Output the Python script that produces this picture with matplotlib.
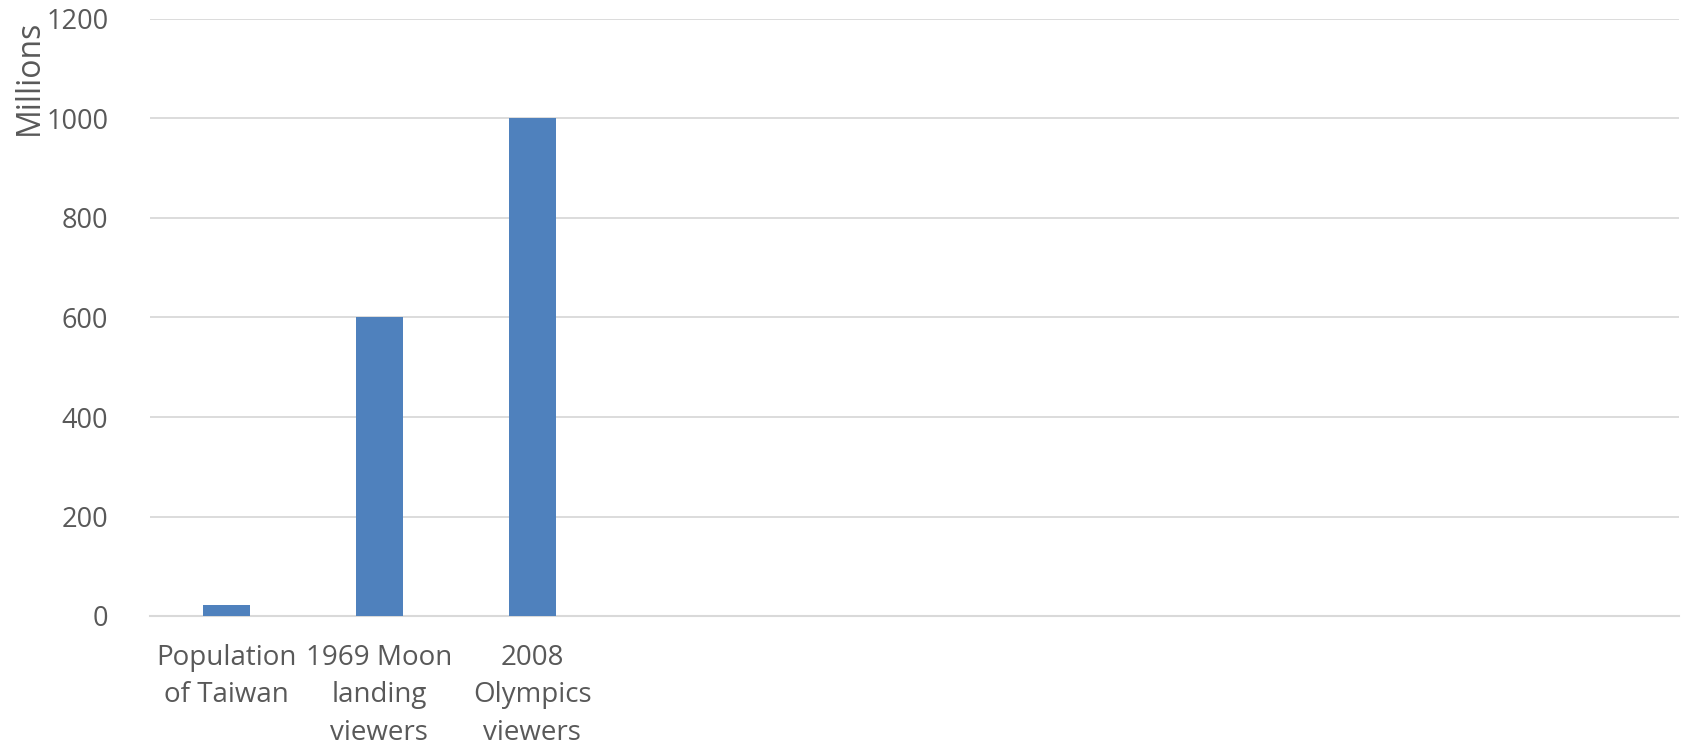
import matplotlib
matplotlib.use("Agg")
import matplotlib.pyplot as plt

# datos
categorias = ["Population\nof Taiwan", "1969 Moon\nlanding\nviewers", "2008\nOlympics\nviewers"]
valores = [23, 600, 1000]
n_espacios = 10  # el eje tiene 10 categorias, solo 3 con datos
ticks_y = [0, 200, 400, 600, 800, 1000, 1200]

plt.rcParams['font.family'] = ['Open Sans', 'DejaVu Sans']

fig = plt.figure(figsize=(16.85, 7.51), dpi=100)
ax = fig.add_axes([150 / 1685, 1 - 616 / 751, (1679 - 150) / 1685, (616 - 19) / 751])

x = list(range(len(valores)))
ax.bar(x, valores, width=0.31, color='#4f81bd', zorder=3)

etiquetas = categorias + [""] * (n_espacios - len(categorias))
ax.set_xticks(range(n_espacios))
ax.set_xticklabels(etiquetas, fontsize=20, color='#595959', linespacing=1.45, va='top')
ax.set_xlim(-0.5, n_espacios - 0.5)

ax.set_ylim(0, 1200)
ax.set_yticks(ticks_y)
ax.set_yticklabels([str(t) for t in ticks_y], fontsize=19.5, color='#595959')
ax.yaxis.grid(True, color='#d9d9d9', linewidth=1.3, zorder=0)
ax.tick_params(axis='both', length=0)
ax.tick_params(axis='x', pad=20)
ax.tick_params(axis='y', pad=30)

for lado in ['top', 'right', 'left']:
    ax.spines[lado].set_visible(False)
ax.spines['bottom'].set_color('#d9d9d9')
ax.spines['bottom'].set_linewidth(1.5)

fig.text(29 / 1685, 1 - 20 / 751, "Millions", rotation=90, fontsize=23,
         color='#595959', ha='center', va='top')

fig.savefig('out.png', dpi=100)
